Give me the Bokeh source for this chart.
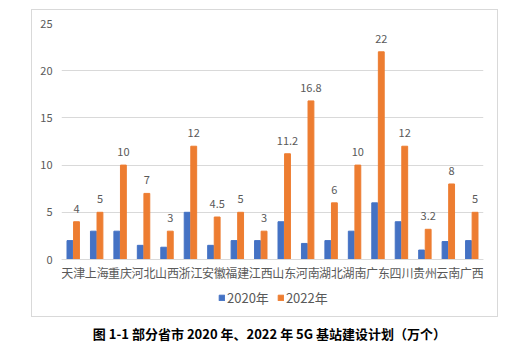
from bokeh.plotting import figure
from bokeh.models import (FactorRange, Range1d, Legend, LegendItem, Label,
                          ColumnDataSource, InlineStyleSheet)
from bokeh.transform import dodge
from bokeh.core.properties import value
from bokeh.embed import file_html
from bokeh.resources import INLINE

provinces = ["天津", "上海", "重庆", "河北", "山西", "浙江", "安徽", "福建", "江西",
             "山东", "河南", "湖北", "湖南", "广东", "四川", "贵州", "云南", "广西"]
v2020 = [2, 3, 3, 1.5, 1.3, 5, 1.5, 2, 2, 4, 1.7, 2, 3, 6, 4, 1, 1.9, 2]
v2022 = [4, 5, 10, 7, 3, 12, 4.5, 5, 3, 11.2, 16.8, 6, 10, 22, 12, 3.2, 8, 5]
series = ["2020年", "2022年"]
y_ticks = [0, 5, 10, 15, 20, 25]
caption = "图 1-1 部分省市 2020 年、2022 年 5G 基站建设计划（万个）"

FONT = "Noto Sans CJK SC"
BLUE = "#4472C4"
ORANGE = "#ED7D31"
GRAY = "#595959"
GRID = "#D9D9D9"

# layout: value axis spans 236 px for 0..25, and 92 px remain below zero
Y_MAX = 25
Y_MIN = -Y_MAX * 92 / 236

src = ColumnDataSource(dict(
    prov=provinces, v2020=v2020, v2022=v2022,
    lab=[f"{v:g}" for v in v2022],
))

p = figure(width=531, height=351,
           x_range=FactorRange(*provinces, range_padding=0),
           y_range=Range1d(Y_MIN, Y_MAX),
           output_backend="svg", toolbar_location=None,
           min_border_left=61, min_border_right=48,
           min_border_top=23, min_border_bottom=0,
           background_fill_color="white", border_fill_color="white")
p.outline_line_color = None

r1 = p.vbar(x=dodge("prov", -0.14, range=p.x_range), top="v2020", bottom=0,
            width=0.25, source=src, fill_color=BLUE, line_color=BLUE)
r2 = p.vbar(x=dodge("prov", 0.14, range=p.x_range), top="v2022", bottom=0,
            width=0.25, source=src, fill_color=ORANGE, line_color=ORANGE)

p.text(x=dodge("prov", 0.14, range=p.x_range), y="v2022", text="lab", source=src,
       text_align="center", text_baseline="bottom", y_offset=-9,
       text_font=value(FONT), text_font_size="11px", text_color=GRAY)

p.xgrid.grid_line_color = None
p.ygrid.grid_line_color = GRID
p.ygrid.ticker = y_ticks

p.xaxis.fixed_location = 0
p.xaxis.axis_line_color = GRID
p.xaxis.major_tick_line_color = None
p.xaxis.minor_tick_line_color = None
p.xaxis.major_tick_out = 0
p.xaxis.minor_tick_out = 0
p.xaxis.major_label_text_font = FONT
p.xaxis.major_label_text_font_size = "12px"
p.xaxis.major_label_text_color = GRAY
p.xaxis.major_label_standoff = 4

p.yaxis.ticker = y_ticks
p.yaxis.axis_line_color = None
p.yaxis.major_tick_line_color = None
p.yaxis.minor_tick_line_color = None
p.yaxis.major_tick_out = 0
p.yaxis.minor_tick_out = 0
p.yaxis.major_label_text_font = FONT
p.yaxis.major_label_text_font_size = "11px"
p.yaxis.major_label_text_color = GRAY
p.yaxis.major_label_standoff = 9

legend = Legend(items=[LegendItem(label=series[0], renderers=[r1]),
                       LegendItem(label=series[1], renderers=[r2])],
                orientation="horizontal", location=(157, 44),
                glyph_width=7, glyph_height=7, label_standoff=2, spacing=8,
                padding=0, margin=0, border_line_color=None,
                background_fill_alpha=0, label_height=18,
                label_text_font=FONT, label_text_font_size="13px",
                label_text_color=GRAY)
p.add_layout(legend, "center")

cap = Label(x=8.87, y=-7.84, text=caption,
            text_align="center", text_baseline="middle",
            text_font=FONT, text_font_size="13px", text_font_style="bold",
            text_color="black")
p.add_layout(cap)

p.stylesheets = [InlineStyleSheet(css="""
:host::after {
  content: ""; position: absolute; left: 31px; top: 9px;
  width: 465px; height: 306px; border: 1px solid #D9D9D9;
  pointer-events: none; box-sizing: content-box;
}
""")]

open("out.html", "w").write(file_html(p, INLINE))
